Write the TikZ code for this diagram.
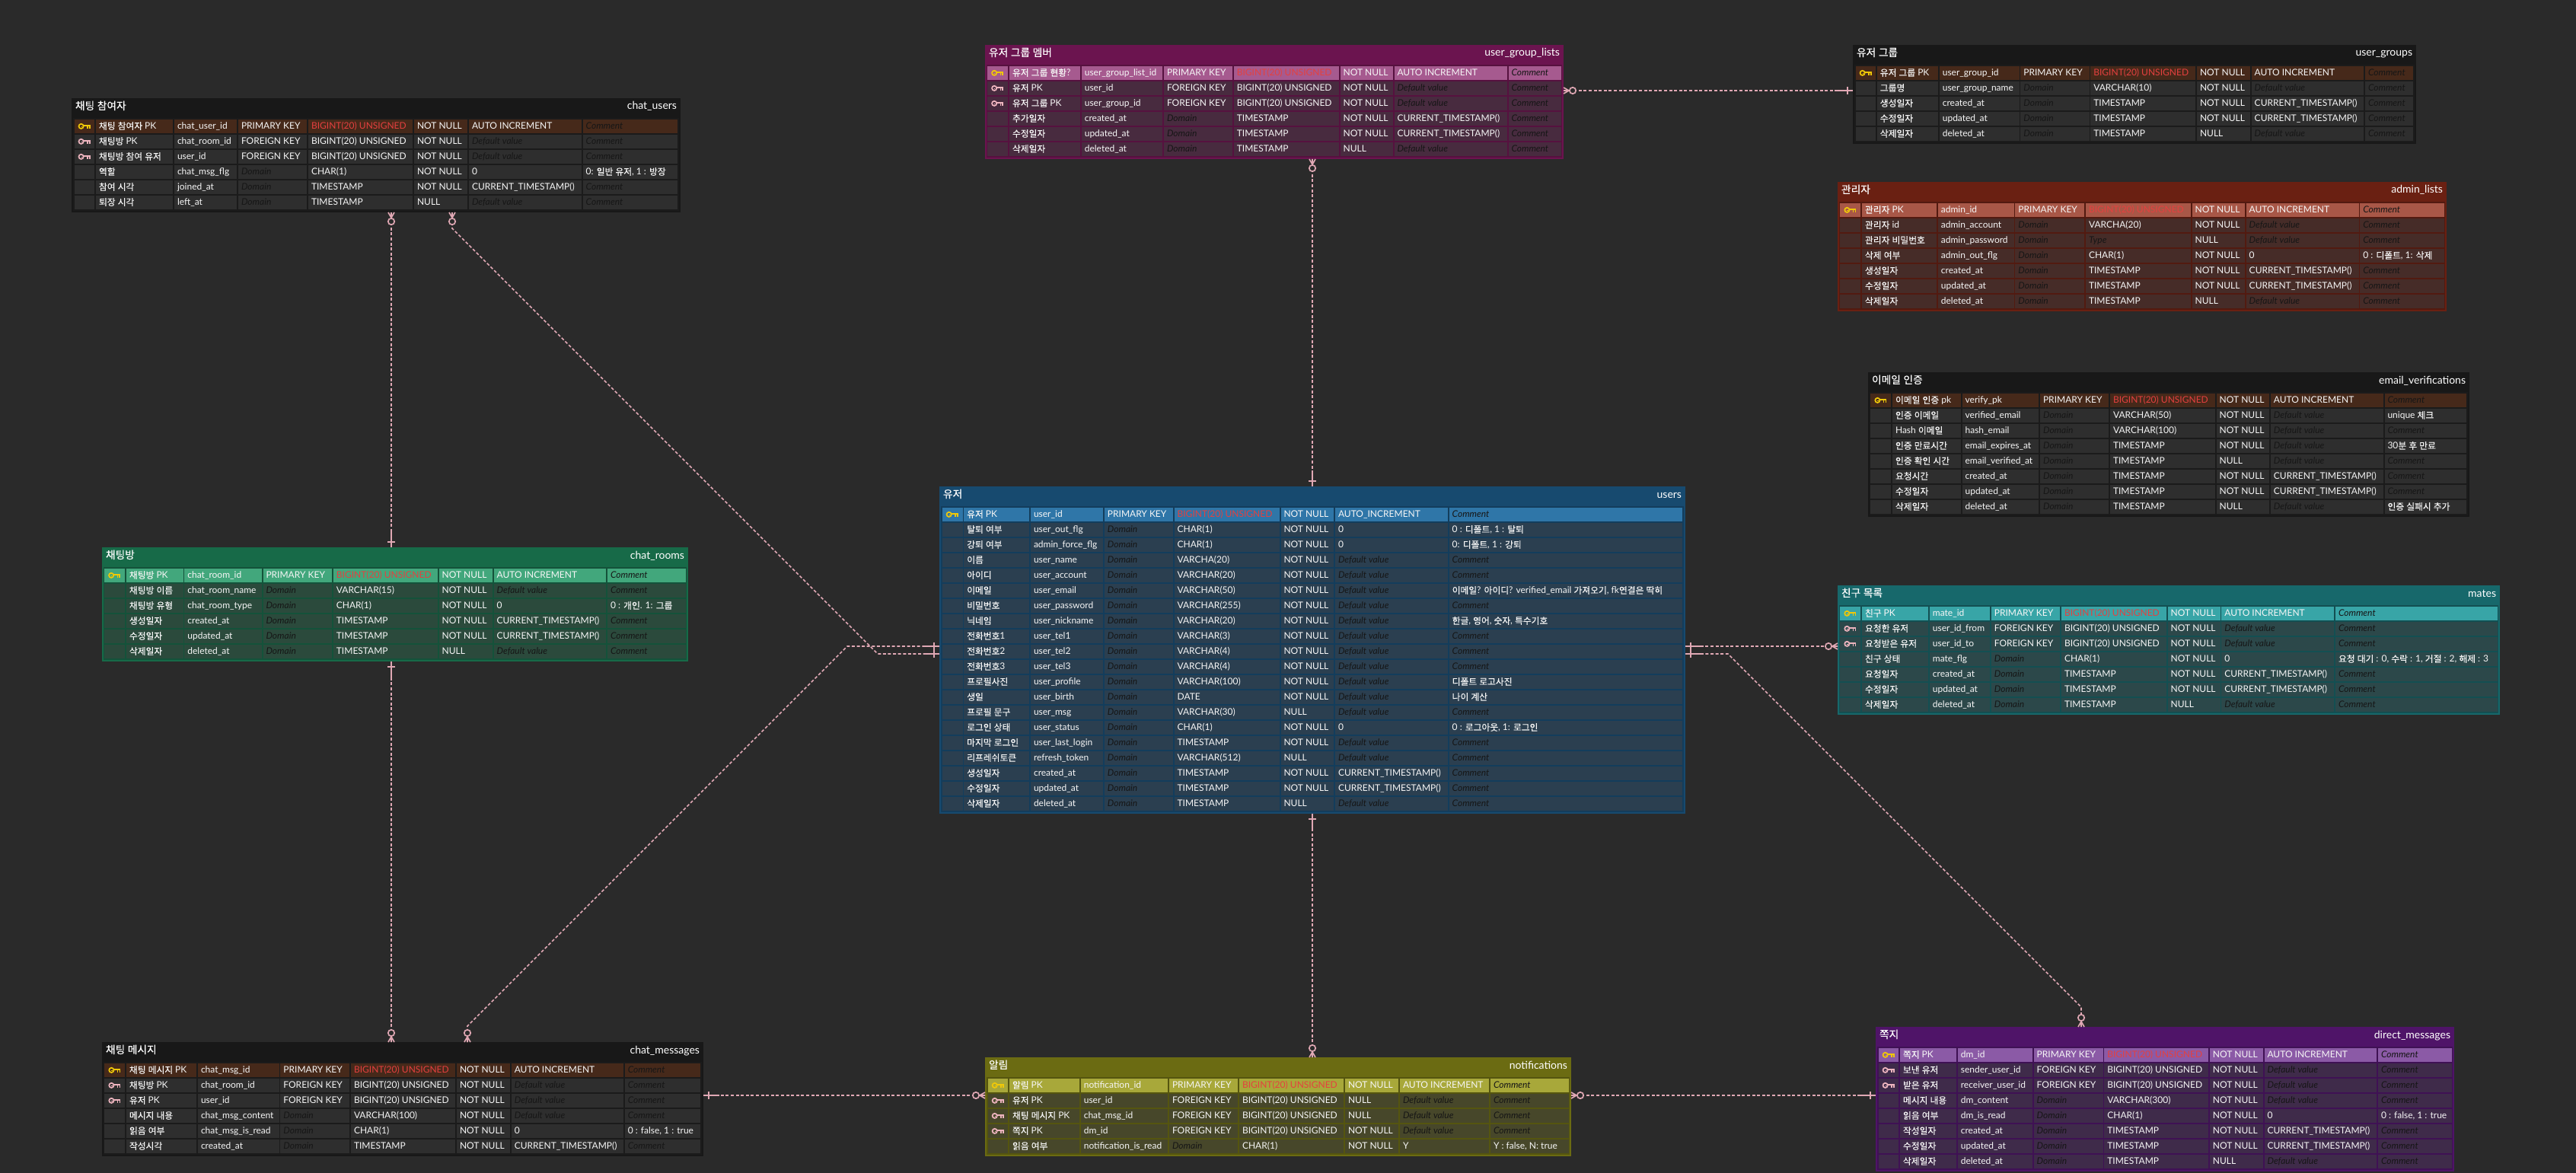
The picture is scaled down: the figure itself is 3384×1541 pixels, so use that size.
\documentclass[tikz,border=0pt]{standalone}
\usepackage{fontspec}
\usetikzlibrary{calc}
\catcode`\_=12
\setmainfont{Lato}
\newfontfamily\krf{Noto Sans CJK KR}[Scale=0.98,FakeBold=0.2]
\newXeTeXintercharclass\krclass
\newcount\hgc
\hgc="AC00
\loop\XeTeXcharclass\hgc=\krclass\ifnum\hgc<"D7A3 \advance\hgc 1 \repeat
\XeTeXinterchartokenstate=1
\XeTeXinterchartoks 0 \krclass={\begingroup\krf}
\XeTeXinterchartoks 4095 \krclass={\begingroup\krf}
\XeTeXinterchartoks \krclass 0={\endgroup}
\XeTeXinterchartoks \krclass 4095={\endgroup}
\definecolor{bgc}{HTML}{2A2A2A}
\definecolor{tabtext}{HTML}{F6F6F6}
\definecolor{phc}{HTML}{161616}
\definecolor{redc}{HTML}{E5403F}
\definecolor{relc}{HTML}{E0A8B4}
\definecolor{keyy}{HTML}{F0C808}
\definecolor{keyf}{HTML}{EDB4BE}
\definecolor{uhead}{HTML}{174A6F}\definecolor{ugap}{HTML}{133D5C}\definecolor{upk}{HTML}{2F76A8}\definecolor{urow}{HTML}{2B3F50}
\definecolor{khead}{HTML}{181818}\definecolor{kgap}{HTML}{1B1B1B}\definecolor{kpk}{HTML}{46291A}\definecolor{krow}{HTML}{2E2E2E}
\definecolor{ghead}{HTML}{176A48}\definecolor{ggap}{HTML}{14523A}\definecolor{gpk}{HTML}{42A77C}\definecolor{grow}{HTML}{2B4A3C}
\definecolor{mhead}{HTML}{6B144F}\definecolor{mgap}{HTML}{56113F}\definecolor{mpk}{HTML}{A65A8F}\definecolor{mrow}{HTML}{482B3F}
\definecolor{rhead}{HTML}{6A2012}\definecolor{rgap}{HTML}{521A10}\definecolor{rpk}{HTML}{A85747}\definecolor{rrow}{HTML}{462C28}
\definecolor{thead}{HTML}{17686B}\definecolor{tgap}{HTML}{134F52}\definecolor{tpk}{HTML}{38A5A7}\definecolor{trow}{HTML}{2C484A}
\definecolor{ohead}{HTML}{6B6B12}\definecolor{ogap}{HTML}{55550F}\definecolor{opk}{HTML}{A8A83A}\definecolor{orow}{HTML}{47472A}
\definecolor{phead}{HTML}{4F1468}\definecolor{pgap}{HTML}{3F1154}\definecolor{ppk}{HTML}{8B5AA6}\definecolor{prow}{HTML}{3F2B4A}
\newcommand\ph[1]{{\itshape\color{phc}#1}}
\newcommand\pdom{\ph{Domain}}
\newcommand\pdef{\ph{Default value}}
\newcommand\pcom{\ph{Comment}}
\newcommand\bigu{BIGINT(20) UNSIGNED}
\newcommand\curt{CURRENT_TIMESTAMP()}
\newcount\rowno
\newcommand\setcols[9]{\def\ca{#1}\def\cb{#2}\def\cc{#3}\def\cd{#4}\def\ce{#5}\def\cf{#6}\def\cg{#7}\def\ch{#8}\def\ci{#9}}
% name, palette, x0, y0, x1, y1, title, physical name
\newcommand\tablebox[8]{%
  \def\tname{#1}\def\tp{#2}\def\ttop{#4}\global\rowno=0
  \pgfmathsetmacro\tw{#5-#3}\pgfmathsetmacro\th{#6-#4}
  \node[tablebody,fill={#2head},minimum width=\tw pt,minimum height=\th pt] (#1) at (#3,#4) {};
  \fill[fill={#2gap}] ($(#1.north west)+(2,26)$) rectangle ($(#1.south east)+(-2,-2)$);
  \node[titletext,anchor=base west] (#1-title) at ($(#1.north west)+(5,15)$) {#7};
  \node[titletext,anchor=base east] (#1-phys) at ($(#1.north east)+(-5,15)$) {#8};
}
\newcommand\onecell[4]{% left, right, fill, text
  \fill[fill=#3] (#1,\rowt) rectangle ({#2-1.7},\rowb);
  \ifx\relax#4\relax\else
  \node[celltext] (\tname-\the\rowno-#1) at ({#1+4},\rowl) {#4};\fi}
\newcommand\trow[8]{%
  \pgfmathsetmacro\rowt{\ttop+27.67+20*\rowno}
  \pgfmathsetmacro\rowb{\rowt+18.33}
  \pgfmathsetmacro\rowl{\rowt+13.2}
  \def\cellc{\tp row}
  \if#1p\def\cellc{\tp pk}\fi
  \onecell{\ca}{\cb}{\cellc}{}
  \onecell{\cb}{\cc}{\cellc}{#2}
  \onecell{\cc}{\cd}{\cellc}{#3}
  \onecell{\cd}{\ce}{\cellc}{#4}
  \onecell{\ce}{\cf}{\cellc}{#5}
  \onecell{\cf}{\cg}{\cellc}{#6}
  \onecell{\cg}{\ch}{\cellc}{#7}
  \onecell{\ch}{\ci}{\cellc}{#8}
  \pgfmathsetmacro\keyx{(\ca+\cb-1.7)/2}
  \pgfmathsetmacro\keyy{\rowt+9.2}
  \if#1p\keyicon{\keyx}{\keyy}{keyy}\fi
  \if#1f\keyicon{\keyx}{\keyy}{keyf}\fi
  \global\advance\rowno 1
}
\newcommand\keyicon[3]{%
  \begin{scope}[shift={(#1,#2)},draw=#3,line cap=butt]
    \draw[line width=1.7pt] (-4.4,0) circle (3.1);
    \draw[line width=1pt] (-4.4,0.2) -- (-3.2,0.2);
    \draw[line width=2pt] (-1.3,-0.8) -- (7.6,-0.8);
    \draw[line width=1.6pt] (3.8,-0.8) -- (3.8,3.3);
    \draw[line width=1.6pt] (6.7,-0.8) -- (6.7,3.3);
  \end{scope}}
\newcommand\pkrow[3]{\trow{p}{#1}{#2}{PRIMARY KEY}{\textcolor{redc}{\bigu}}{NOT NULL}{#3}{\pcom}}
\newcommand\fkrow[3]{\trow{f}{#1}{#2}{FOREIGN KEY}{\bigu}{#3}{\pdef}{\pcom}}
\newcommand\crow[2]{\trow{n}{#1}{#2}{\pdom}{TIMESTAMP}{NOT NULL}{\curt}{\pcom}}
\newcommand\drow[2]{\trow{n}{#1}{#2}{\pdom}{TIMESTAMP}{NULL}{\pdef}{\pcom}}
\newcommand\vrow[3]{\trow{n}{#1}{#2}{\pdom}{#3}{NOT NULL}{\pdef}{\pcom}}
\newcommand\oneend[2]{%
  \begin{scope}[shift={(#1)},rotate=#2]
    \draw[relsolid] (0,0) -- (21,0);
    \draw[relsolid] (7,-5) -- (7,5);
  \end{scope}}
\newcommand\manyend[2]{%
  \begin{scope}[shift={(#1)},rotate=#2]
    \draw[relsolid] (0,-4) -- (7,0) -- (0,4) (0,0) -- (7,0);
    \draw[relsolid,fill=bgc] (12,0) circle (4.2);
  \end{scope}}
\tikzset{
  tablebody/.style={anchor=north west,inner sep=0pt,outer sep=0pt,draw=none},
  titletext/.style={inner sep=0pt,outer sep=0pt,text=white,font=\fontsize{14}{14}\selectfont},
  celltext/.style={anchor=base west,inner sep=0pt,outer sep=0pt,text=tabtext,font=\fontsize{12}{12}\selectfont},
  rel/.style={draw=relc,line width=1.7pt,dash pattern=on 4pt off 2.6pt},
  relsolid/.style={draw=relc,line width=1.7pt,line cap=butt}
}
\begin{document}
\begin{tikzpicture}[x=1pt,y=-1pt]
\useasboundingbox (0,0) rectangle (3384,1541);
\fill[bgc] (0,0) rectangle (3384,1541);

% users
\tablebox{users}{u}{1234}{639}{2214}{1069}{유저}{users}
\setcols{1237.6}{1266.2}{1354}{1450.9}{1542.6}{1682.5}{1754}{1903.7}{2212}
\trow{p}{유저 PK}{user_id}{PRIMARY KEY}{\textcolor{redc}{\bigu}}{NOT NULL}{AUTO_INCREMENT}{\pcom}
\trow{n}{탈퇴 여부}{user_out_flg}{\pdom}{CHAR(1)}{NOT NULL}{0}{0 : 디폴트, 1 : 탈퇴}
\trow{n}{강퇴 여부}{admin_force_flg}{\pdom}{CHAR(1)}{NOT NULL}{0}{0: 디폴트, 1 : 강퇴}
\vrow{이름}{user_name}{VARCHA(20)}
\vrow{아이디}{user_account}{VARCHAR(20)}
\trow{n}{이메일}{user_email}{\pdom}{VARCHAR(50)}{NOT NULL}{\pdef}{이메일? 아이디? verified_email 가져오기, fk연결은 딱히}
\vrow{비밀번호}{user_password}{VARCHAR(255)}
\trow{n}{닉네임}{user_nickname}{\pdom}{VARCHAR(20)}{NOT NULL}{\pdef}{한글, 영어, 숫자, 특수기호}
\vrow{전화번호1}{user_tel1}{VARCHAR(3)}
\vrow{전화번호2}{user_tel2}{VARCHAR(4)}
\vrow{전화번호3}{user_tel3}{VARCHAR(4)}
\trow{n}{프로필사진}{user_profile}{\pdom}{VARCHAR(100)}{NOT NULL}{\pdef}{디폴트 로고사진}
\trow{n}{생일}{user_birth}{\pdom}{DATE}{NOT NULL}{\pdef}{나이 계산}
\trow{n}{프로필 문구}{user_msg}{\pdom}{VARCHAR(30)}{NULL}{\pdef}{\pcom}
\trow{n}{로그인 상태}{user_status}{\pdom}{CHAR(1)}{NOT NULL}{0}{0 : 로그아웃, 1: 로그인}
\vrow{마지막 로그인}{user_last_login}{TIMESTAMP}
\trow{n}{리프레쉬토큰}{refresh_token}{\pdom}{VARCHAR(512)}{NULL}{\pdef}{\pcom}
\crow{생성일자}{created_at}
\crow{수정일자}{updated_at}
\drow{삭제일자}{deleted_at}

% chat_users
\tablebox{chatusers}{k}{94}{129}{894}{279}{채팅 참여자}{chat_users}
\setcols{97.7}{126}{229}{313}{405}{544}{616}{765.7}{892}
\pkrow{채팅 참여자 PK}{chat_user_id}{AUTO INCREMENT}
\fkrow{채팅방 PK}{chat_room_id}{NOT NULL}
\fkrow{채팅방 참여 유저}{user_id}{NOT NULL}
\trow{n}{역할}{chat_msg_flg}{\pdom}{CHAR(1)}{NOT NULL}{0}{0: 일반 유저, 1 : 방장}
\crow{참여 시각}{joined_at}
\drow{퇴장 시각}{left_at}

% chat_rooms
\tablebox{chatrooms}{g}{134}{719}{904}{869}{채팅방}{chat_rooms}
\setcols{136.8}{166}{242.4}{345.5}{437.9}{576.6}{648.6}{798}{902.6}
\pkrow{채팅방 PK}{chat_room_id}{AUTO INCREMENT}
\vrow{채팅방 이름}{chat_room_name}{VARCHAR(15)}
\trow{n}{채팅방 유형}{chat_room_type}{\pdom}{CHAR(1)}{NOT NULL}{0}{0 : 개인. 1: 그룹}
\crow{생성일자}{created_at}
\crow{수정일자}{updated_at}
\drow{삭제일자}{deleted_at}

% chat_messages
\tablebox{chatmessages}{k}{134}{1369}{924}{1519}{채팅 메시지}{chat_messages}
\setcols{137.3}{166}{260}{368.4}{461}{600}{671.8}{820.8}{922}
\pkrow{채팅 메시지 PK}{chat_msg_id}{AUTO INCREMENT}
\fkrow{채팅방 PK}{chat_room_id}{NOT NULL}
\fkrow{유저 PK}{user_id}{NOT NULL}
\vrow{메시지 내용}{chat_msg_content}{VARCHAR(100)}
\trow{n}{읽음 여부}{chat_msg_is_read}{\pdom}{CHAR(1)}{NOT NULL}{0}{0 : false, 1 : true}
\crow{작성시각}{created_at}

% notifications
\tablebox{notifications}{o}{1294}{1389}{2064}{1519}{알림}{notifications}
\setcols{1297.9}{1326}{1419.8}{1536}{1628}{1767}{1839}{1958}{2062.6}
\pkrow{알림 PK}{notification_id}{AUTO INCREMENT}
\fkrow{유저 PK}{user_id}{NULL}
\fkrow{채팅 메시지 PK}{chat_msg_id}{NULL}
\fkrow{쪽지 PK}{dm_id}{NOT NULL}
\trow{n}{읽음 여부}{notification_is_read}{\pdom}{CHAR(1)}{NOT NULL}{Y}{Y : false, N: true}

% direct_messages
\tablebox{directmessages}{p}{2464}{1349}{3224}{1539}{쪽지}{direct_messages}
\setcols{2467.7}{2496}{2571.8}{2671.7}{2764.3}{2902.9}{2974.5}{3124}{3222.8}
\pkrow{쪽지 PK}{dm_id}{AUTO INCREMENT}
\fkrow{보낸 유저}{sender_user_id}{NOT NULL}
\fkrow{받은 유저}{receiver_user_id}{NOT NULL}
\vrow{메시지 내용}{dm_content}{VARCHAR(300)}
\trow{n}{읽음 여부}{dm_is_read}{\pdom}{CHAR(1)}{NOT NULL}{0}{0 : false, 1 : true}
\crow{작성일자}{created_at}
\crow{수정일자}{updated_at}
\drow{삭제일자}{deleted_at}

% user_group_lists
\tablebox{usergrouplists}{m}{1294}{59}{2054}{209}{유저 그룹 멤버}{user_group_lists}
\setcols{1296.8}{1326}{1420.8}{1529}{1620.8}{1760.6}{1831.5}{1981.5}{2052.4}
\pkrow{유저 그룹 현황?}{user_group_list_id}{AUTO INCREMENT}
\fkrow{유저 PK}{user_id}{NOT NULL}
\fkrow{유저 그룹 PK}{user_group_id}{NOT NULL}
\crow{추가일자}{created_at}
\crow{수정일자}{updated_at}
\drow{삭제일자}{deleted_at}

% user_groups
\tablebox{usergroups}{k}{2434}{59}{3174}{189}{유저 그룹}{user_groups}
\setcols{2437.9}{2465.8}{2547.8}{2654.3}{2746.3}{2886}{2957.7}{3107}{3172}
\pkrow{유저 그룹 PK}{user_group_id}{AUTO INCREMENT}
\vrow{그룹명}{user_group_name}{VARCHAR(10)}
\crow{생성일자}{created_at}
\crow{수정일자}{updated_at}
\drow{삭제일자}{deleted_at}

% admin_lists
\tablebox{adminlists}{r}{2414}{239}{3214}{409}{관리자}{admin_lists}
\setcols{2417.3}{2446}{2545.9}{2647.4}{2740}{2879.6}{2950.7}{3100.3}{3212.7}
\pkrow{관리자 PK}{admin_id}{AUTO INCREMENT}
\vrow{관리자 id}{admin_account}{VARCHA(20)}
\trow{n}{관리자 비밀번호}{admin_password}{\pdom}{\ph{Type}}{NULL}{\pdef}{\pcom}
\trow{n}{삭제 여부}{admin_out_flg}{\pdom}{CHAR(1)}{NOT NULL}{0}{0 : 디폴트, 1: 삭제}
\crow{생성일자}{created_at}
\crow{수정일자}{updated_at}
\drow{삭제일자}{deleted_at}

% email_verifications
\tablebox{emailverifications}{k}{2454}{489}{3244}{679}{이메일 인증}{email_verifications}
\setcols{2457.3}{2486}{2577.6}{2680}{2772}{2911.7}{2982.9}{3132.5}{3242}
\pkrow{이메일 인증 pk}{verify_pk}{AUTO INCREMENT}
\trow{n}{인증 이메일}{verified_email}{\pdom}{VARCHAR(50)}{NOT NULL}{\pdef}{unique 체크}
\vrow{Hash 이메일}{hash_email}{VARCHAR(100)}
\trow{n}{인증 만료시간}{email_expires_at}{\pdom}{TIMESTAMP}{NOT NULL}{\pdef}{30분 후 만료}
\drow{인증 확인 시간}{email_verified_at}
\crow{요청시간}{created_at}
\crow{수정일자}{updated_at}
\trow{n}{삭제일자}{deleted_at}{\pdom}{TIMESTAMP}{NULL}{\pdef}{인증 실패시 추가}

% mates
\tablebox{mates}{t}{2414}{769}{3284}{939}{친구 목록}{mates}
\setcols{2417.2}{2446}{2534.9}{2615.8}{2708}{2847.7}{2918.3}{3068}{3282.5}
\pkrow{친구 PK}{mate_id}{AUTO INCREMENT}
\fkrow{요청한 유저}{user_id_from}{NOT NULL}
\fkrow{요청받은 유저}{user_id_to}{NOT NULL}
\trow{n}{친구 상태}{mate_flg}{\pdom}{CHAR(1)}{NOT NULL}{0}{요청 대기 : 0, 수락 : 1, 거절 : 2, 해제 : 3}
\crow{요청일자}{created_at}
\crow{수정일자}{updated_at}
\drow{삭제일자}{deleted_at}

% connector ends
\coordinate (ut) at ($(users.north west)+(490,0)$);
\coordinate (ub) at ($(users.south west)+(490,0)$);
\coordinate (ul1) at ($(users.north west)+(0,210)$);
\coordinate (ul2) at ($(users.north west)+(0,220)$);
\coordinate (ur1) at ($(users.north east)+(0,210)$);
\coordinate (ur2) at ($(users.north east)+(0,220)$);
\coordinate (ugb) at ($(usergrouplists.south west)+(430,0)$);
\coordinate (ugr) at ($(usergrouplists.north east)+(0,60)$);
\coordinate (gl) at ($(usergroups.north west)+(0,60)$);
\coordinate (cub1) at ($(chatusers.south west)+(420,0)$);
\coordinate (cub2) at ($(chatusers.south west)+(500,0)$);
\coordinate (crt) at ($(chatrooms.north west)+(380,0)$);
\coordinate (crb) at ($(chatrooms.south west)+(380,0)$);
\coordinate (cmt1) at ($(chatmessages.north west)+(380,0)$);
\coordinate (cmt2) at ($(chatmessages.north west)+(480,0)$);
\coordinate (cmr) at ($(chatmessages.north east)+(0,70)$);
\coordinate (nt) at ($(notifications.north west)+(430,0)$);
\coordinate (nl) at ($(notifications.north west)+(0,50)$);
\coordinate (nr) at ($(notifications.north east)+(0,50)$);
\coordinate (dmt) at ($(directmessages.north west)+(270,0)$);
\coordinate (dml) at ($(directmessages.north west)+(0,90)$);
\coordinate (mal) at ($(mates.north west)+(0,80)$);

% connectors
\draw[rel] (ugb) -- (ut);
\draw[rel] (ugr) -- (gl);
\draw[rel] (cub1) -- (crt);
\draw[rel] (cmt1) -- (crb);
\draw[rel] (cub2) -- ++(0,21) -- ($(ul2)+(-81,0)$) -- (ul2);
\draw[rel] (cmt2) -- ++(0,-21) -- ($(ul1)+(-121,0)$) -- (ul1);
\draw[rel] (ur1) -- (mal);
\draw[rel] (ur2) -- ($(ur2)+(56,0)$) -- ($(dmt)+(0,-26)$) -- (dmt);
\draw[rel] (nt) -- (ub);
\draw[rel] (nl) -- (cmr);
\draw[rel] (nr) -- (dml);
\oneend{ut}{90}\oneend{ub}{270}\oneend{ul1}{180}\oneend{ul2}{180}
\oneend{ur1}{0}\oneend{ur2}{0}\oneend{gl}{180}\oneend{crt}{90}\oneend{crb}{270}
\oneend{cmr}{0}\oneend{dml}{180}
\manyend{ugb}{270}\manyend{ugr}{0}\manyend{cub1}{270}\manyend{cub2}{270}
\manyend{cmt1}{90}\manyend{cmt2}{90}\manyend{nt}{90}\manyend{nl}{180}\manyend{nr}{0}
\manyend{dmt}{90}\manyend{mal}{180}
\end{tikzpicture}
\end{document}
